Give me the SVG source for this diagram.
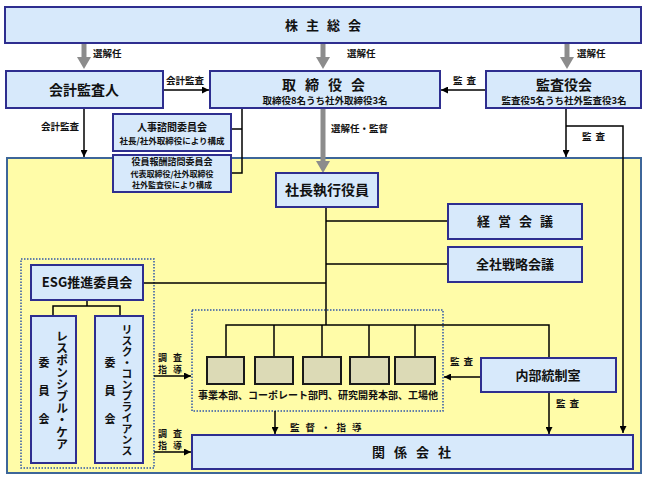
<svg xmlns="http://www.w3.org/2000/svg" width="648" height="480" viewBox="0 0 648 480">
<defs>
<style>
text{font-family:"Noto Sans CJK JP","Noto Sans",sans-serif;font-weight:700;fill:#111;}
.box{fill:#D7E9FB;stroke:#2E2E8F;stroke-width:2;}
.unit{fill:#DCDAB6;stroke:#1a1a1a;stroke-width:2;}
.ln{fill:none;stroke:#000;stroke-width:1.5;}
.gr{fill:none;stroke:#8C8C8C;stroke-width:5;}
.dot{fill:none;stroke:#2F55A8;stroke-width:1.5;stroke-dasharray:1.5 1.5;}
.t14{font-size:14px;}
.t13{font-size:13px;}
.t10{font-size:10px;}
.t9{font-size:9.5px;}
.lb{font-size:9.5px;}
.sm{font-size:9px;}
.xs{font-size:8px;}
</style>
<marker id="ah" viewBox="0 0 10 10" refX="10" refY="5" markerWidth="7" markerHeight="7" markerUnits="userSpaceOnUse" orient="auto"><path d="M0,0 L10,5 L0,10 z" fill="#000"/></marker>
</defs>
<rect x="0" y="0" width="648" height="480" fill="#fff"/>
<!-- yellow executive area -->
<rect id="exec-area" x="7" y="158" width="634" height="315" fill="#FFFCA8" stroke="#3D6699" stroke-width="2"/>
<rect class="dot" x="21" y="259" width="133" height="209"/>
<rect class="dot" x="192" y="310" width="251" height="101"/>

<g id="connectors">
<!-- gray arrows -->
<line class="gr" x1="84" y1="43" x2="84" y2="58"/><path d="M77,57 L91,57 L84,69 z" fill="#8C8C8C"/>
<line class="gr" x1="323" y1="43" x2="323" y2="58"/><path d="M316,57 L330,57 L323,69 z" fill="#8C8C8C"/>
<line class="gr" x1="567" y1="43" x2="567" y2="58"/><path d="M560,57 L574,57 L567,69 z" fill="#8C8C8C"/>
<line class="gr" x1="323" y1="108" x2="323" y2="162"/><path d="M316,161 L330,161 L323,173 z" fill="#8C8C8C"/>
<!-- black arrows -->
<line class="ln" x1="163" y1="90" x2="209" y2="90" marker-end="url(#ah)"/>
<line class="ln" x1="486" y1="90" x2="441" y2="90" marker-end="url(#ah)"/>
<line class="ln" x1="84" y1="108" x2="84" y2="157" marker-end="url(#ah)"/>
<line class="ln" x1="566" y1="108" x2="566" y2="157" marker-end="url(#ah)"/>
<polyline class="ln" points="566,126 623,126 623,433" marker-end="url(#ah)"/>
<!-- board to committees -->
<polyline class="ln" points="242,108 242,173 231,173"/>
<line class="ln" x1="231" y1="129" x2="242" y2="129"/>
<!-- president tree -->
<line class="ln" x1="326" y1="207" x2="326" y2="325"/>
<line class="ln" x1="326" y1="221" x2="448" y2="221"/>
<line class="ln" x1="326" y1="264" x2="448" y2="264"/>
<line class="ln" x1="143" y1="283" x2="326" y2="283"/>
<polyline class="ln" points="226,357 226,325 549,325 549,358"/>
<line class="ln" x1="274" y1="325" x2="274" y2="357"/>
<line class="ln" x1="322" y1="325" x2="322" y2="357"/>
<line class="ln" x1="369" y1="325" x2="369" y2="357"/>
<line class="ln" x1="415" y1="325" x2="415" y2="357"/>
<!-- ESG tree -->
<polyline class="ln" points="53,316 53,306 120,306 120,316"/>
<line class="ln" x1="87" y1="300" x2="87" y2="306"/>
<!-- 調査指導 -->
<line class="ln" x1="154" y1="376" x2="191" y2="376" marker-end="url(#ah)"/>
<line class="ln" x1="154" y1="452" x2="191" y2="452" marker-end="url(#ah)"/>
<!-- 監督指導 -->
<line class="ln" x1="275" y1="411" x2="275" y2="434" marker-end="url(#ah)"/>
<!-- internal audit -->
<line class="ln" x1="481" y1="377" x2="444" y2="377" marker-end="url(#ah)"/>
<line class="ln" x1="549" y1="392" x2="549" y2="434" marker-end="url(#ah)"/>
</g>

<g id="labels">
<text class="lb" x="93" y="57">選解任</text>
<text class="lb" x="347" y="57">選解任</text>
<text class="lb" x="577" y="57">選解任</text>
<text class="lb" x="166" y="84">会計監査</text>
<text class="lb" x="453" y="84" letter-spacing="4">監査</text>
<text class="lb" x="41" y="130">会計監査</text>
<text class="lb" x="331" y="132">選解任・監督</text>
<text class="lb" x="582" y="140" letter-spacing="4">監査</text>
<text class="sm" x="158" y="361" letter-spacing="6">調査</text>
<text class="sm" x="158" y="373" letter-spacing="6">指導</text>
<text class="sm" x="158" y="437" letter-spacing="6">調査</text>
<text class="sm" x="158" y="449" letter-spacing="6">指導</text>
<text class="lb" x="290" y="431" letter-spacing="6">監督・指導</text>
<text class="lb" x="450" y="365" letter-spacing="4">監査</text>
<text class="lb" x="556" y="407" letter-spacing="4">監査</text>
</g>

<g id="shareholders"><rect class="box" x="5" y="7" width="636" height="36"/><text class="t13" x="327" y="30" text-anchor="middle" letter-spacing="8">株主総会</text></g>
<g id="auditor"><rect class="box" x="6" y="71" width="157" height="37"/><text class="t14" x="84" y="95" text-anchor="middle">会計監査人</text></g>
<g id="board"><rect class="box" x="210" y="71" width="230" height="37"/><text class="t14" x="328" y="90" text-anchor="middle" letter-spacing="9">取締役会</text><text class="t9" x="325" y="104" text-anchor="middle">取締役8名うち社外取締役3名</text></g>
<g id="kansayaku"><rect class="box" x="486" y="71" width="155" height="37"/><text class="t14" x="564" y="90" text-anchor="middle">監査役会</text><text class="t9" x="564" y="104" text-anchor="middle">監査役5名うち社外監査役3名</text></g>
<g id="jinji"><rect class="box" x="113" y="114" width="118" height="37"/><text class="t10" x="172" y="131" text-anchor="middle">人事諮問委員会</text><text style="font-size:8.5px" x="172" y="144" text-anchor="middle">社長/社外取締役により構成</text></g>
<g id="hoshu"><rect class="box" x="113" y="155" width="118" height="37"/><text class="sm" x="172" y="165" text-anchor="middle">役員報酬諮問委員会</text><text class="xs" x="172" y="177" text-anchor="middle">代表取締役/社外取締役</text><text class="xs" x="172" y="188" text-anchor="middle">社外監査役により構成</text></g>
<g id="president"><rect class="box" x="276" y="173" width="102" height="34"/><text class="t14" x="327" y="195" text-anchor="middle">社長執行役員</text></g>
<g id="keiei"><rect class="box" x="448" y="204" width="134" height="35"/><text class="t13" x="519" y="226" text-anchor="middle" letter-spacing="8">経営会議</text></g>
<g id="senryaku"><rect class="box" x="448" y="247" width="134" height="35"/><text class="t13" x="515" y="269" text-anchor="middle">全社戦略会議</text></g>
<g id="esg"><rect class="box" x="31" y="265" width="112" height="35"/><text class="t13" x="87" y="287" text-anchor="middle">ESG推進委員会</text></g>
<g id="rc"><rect class="box" x="31" y="316" width="45" height="147"/><text style="font-size:12px;writing-mode:vertical-rl" x="62" y="390" text-anchor="middle">レスポンシブル・ケア</text><text style="font-size:11px;writing-mode:vertical-rl" x="44" y="357" letter-spacing="17">委員会</text></g>
<g id="risk"><rect class="box" x="95" y="316" width="48" height="147"/><text style="font-size:11px;writing-mode:vertical-rl" x="127" y="390" text-anchor="middle">リスク・コンプライアンス</text><text style="font-size:11px;writing-mode:vertical-rl" x="110" y="357" letter-spacing="17">委員会</text></g>
<g id="units">
<rect class="unit" x="207" y="357" width="37" height="27"/>
<rect class="unit" x="255" y="357" width="38" height="27"/>
<rect class="unit" x="303" y="357" width="38" height="27"/>
<rect class="unit" x="350" y="357" width="39" height="27"/>
<rect class="unit" x="395" y="357" width="40" height="27"/>
<text class="t10" x="318" y="399" text-anchor="middle">事業本部、コーポレート部門、研究開発本部、工場他</text>
</g>
<g id="naibu"><rect class="box" x="481" y="358" width="135" height="34"/><text class="t13" x="548" y="380" text-anchor="middle">内部統制室</text></g>
<g id="kankei"><rect class="box" x="192" y="435" width="441" height="34"/><text class="t13" x="416" y="457" text-anchor="middle" letter-spacing="9">関係会社</text></g>
</svg>
